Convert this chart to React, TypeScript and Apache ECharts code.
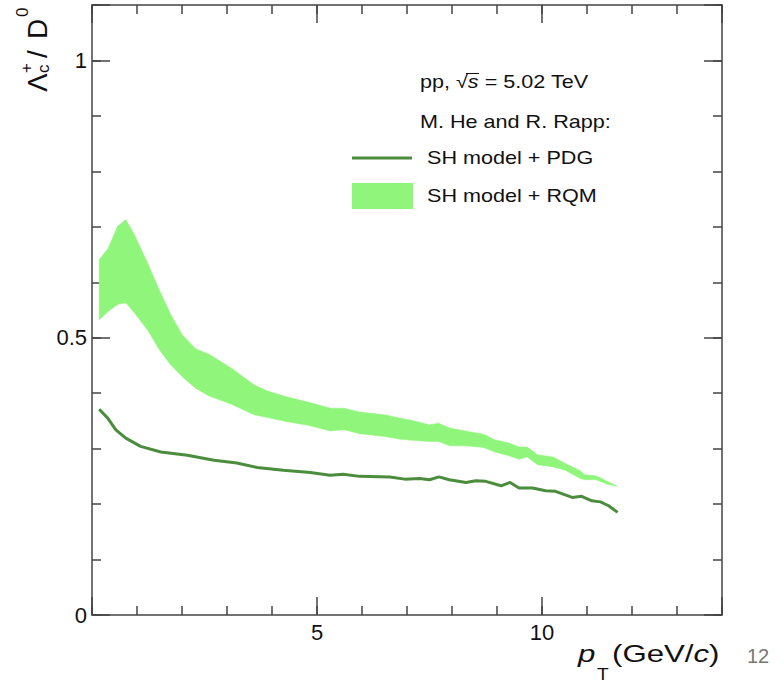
import React, { useEffect, useRef } from "react";
import * as echarts from "echarts";

// Λc+/D0 vs pT — M. He and R. Rapp, SH model + PDG (line)
const pdgX = [0.16, 0.35, 0.53, 0.75, 1.08, 1.53, 2.12, 2.71, 3.22, 3.67, 4.25, 4.85, 5.29, 5.58, 5.95, 6.62, 6.95, 7.28, 7.5, 7.71, 7.94, 8.31, 8.53, 8.75, 9.09, 9.29, 9.49, 9.79, 10.08, 10.3, 10.67, 10.88, 11.11, 11.3, 11.48, 11.68];
const pdgY = [0.371, 0.355, 0.334, 0.319, 0.304, 0.294, 0.288, 0.279, 0.274, 0.266, 0.261, 0.257, 0.252, 0.254, 0.25, 0.249, 0.245, 0.246, 0.244, 0.249, 0.244, 0.239, 0.242, 0.241, 0.233, 0.239, 0.229, 0.229, 0.224, 0.223, 0.212, 0.214, 0.206, 0.204, 0.197, 0.185];

// SH model + RQM (band)
const rqmX = [0.16, 0.35, 0.57, 0.75, 0.94, 1.25, 1.5, 1.75, 2.0, 2.3, 2.6, 3.1, 3.6, 3.9, 4.3, 4.8, 5.3, 5.6, 5.95, 6.5, 6.85, 7.1, 7.5, 7.7, 7.95, 8.3, 8.7, 8.95, 9.27, 9.49, 9.67, 9.9, 10.25, 10.52, 10.85, 10.95, 11.2, 11.45, 11.68];
const rqmUpper = [0.641, 0.66, 0.701, 0.713, 0.686, 0.632, 0.585, 0.542, 0.506, 0.48, 0.47, 0.445, 0.415, 0.404, 0.394, 0.384, 0.373, 0.373, 0.366, 0.361, 0.355, 0.351, 0.343, 0.346, 0.337, 0.332, 0.326, 0.316, 0.31, 0.303, 0.303, 0.289, 0.285, 0.273, 0.26, 0.253, 0.251, 0.241, 0.232];
const rqmLower = [0.532, 0.547, 0.56, 0.563, 0.545, 0.512, 0.478, 0.451, 0.43, 0.409, 0.395, 0.38, 0.361, 0.356, 0.349, 0.342, 0.332, 0.334, 0.327, 0.322, 0.317, 0.315, 0.313, 0.313, 0.305, 0.305, 0.302, 0.294, 0.287, 0.281, 0.285, 0.271, 0.267, 0.261, 0.246, 0.244, 0.244, 0.236, 0.232];

const xMajorLabels = [5, 10];
const yMajorLabels = [0, 0.5, 1];

const LINE_COLOR = "#4b8d3d";
const BAND_COLOR = "#90f57b";
const AXIS_COLOR = "#444444";
const FONT = "'Liberation Sans', Arial, Helvetica, sans-serif";

const txt = (text: string, font: string, extra: any = {}) => ({
  text, font, fill: "#111",
  align: "left", verticalAlign: "middle", textAlign: "left", textVerticalAlign: "middle",
  ...extra,
});

export default function App() {
  const ref = useRef<HTMLDivElement>(null);

  useEffect(() => {
    if (!ref.current) return;
    const chart = echarts.init(ref.current, null, { renderer: "svg" });

    const axisLine = { show: true, onZero: false, lineStyle: { color: AXIS_COLOR, width: 1.5 } };
    const noLine = { show: false, onZero: false };
    const tickStyle = { color: AXIS_COLOR, width: 1.5 };

    const xBase = { type: "value", min: 0, max: 14, splitLine: { show: false } };
    const yBase = { type: "value", min: 0, max: 1.1, splitLine: { show: false } };

    const option: any = {
      animation: false,
      backgroundColor: "#ffffff",
      grid: { left: 92, right: 61, top: 5, bottom: 68, containLabel: false },
      xAxis: [
        { ...xBase, position: "bottom", interval: 1, axisLine, axisTick: { inside: true, length: 9, lineStyle: tickStyle }, axisLabel: { show: false } },
        {
          ...xBase, position: "bottom", interval: 5, axisLine: noLine,
          axisTick: { inside: true, length: 18, lineStyle: tickStyle },
          axisLabel: {
            show: true, margin: 6, color: "#111", fontSize: 22, fontFamily: FONT,
            formatter: (v: number) => (xMajorLabels.indexOf(v) >= 0 ? String(v) : ""),
          },
        },
        { ...xBase, position: "top", interval: 1, axisLine, axisTick: { inside: true, length: 9, lineStyle: tickStyle }, axisLabel: { show: false } },
        { ...xBase, position: "top", interval: 5, axisLine: noLine, axisTick: { inside: true, length: 18, lineStyle: tickStyle }, axisLabel: { show: false } },
      ],
      yAxis: [
        { ...yBase, position: "left", interval: 0.1, axisLine, axisTick: { inside: true, length: 9, lineStyle: tickStyle }, axisLabel: { show: false } },
        {
          ...yBase, position: "left", interval: 0.5, axisLine: noLine,
          axisTick: { inside: true, length: 18, lineStyle: tickStyle },
          axisLabel: {
            show: true, margin: 5, color: "#111", fontSize: 22, fontFamily: FONT,
            formatter: (v: number) => {
              const hit = yMajorLabels.find((m) => Math.abs(m - v) < 1e-6);
              return hit === undefined ? "" : String(hit);
            },
          },
        },
        { ...yBase, position: "right", interval: 0.1, axisLine, axisTick: { inside: true, length: 9, lineStyle: tickStyle }, axisLabel: { show: false } },
        { ...yBase, position: "right", interval: 0.5, axisLine: noLine, axisTick: { inside: true, length: 18, lineStyle: tickStyle }, axisLabel: { show: false } },
      ],
      series: [
        {
          type: "custom",
          name: "SH model + RQM",
          xAxisIndex: 0,
          yAxisIndex: 0,
          silent: true,
          data: [[rqmX[0], rqmLower[0]]],
          renderItem: (params: any, api: any) => {
            const pts: number[][] = [];
            for (let i = 0; i < rqmX.length; i++) pts.push(api.coord([rqmX[i], rqmUpper[i]]));
            for (let i = rqmX.length - 1; i >= 0; i--) pts.push(api.coord([rqmX[i], rqmLower[i]]));
            return { type: "polygon", shape: { points: pts }, style: { fill: BAND_COLOR, stroke: BAND_COLOR, lineWidth: 0.5 } };
          },
          z: 1,
        },
        {
          type: "line",
          name: "SH model + PDG",
          xAxisIndex: 0,
          yAxisIndex: 0,
          data: pdgX.map((x, i) => [x, pdgY[i]]),
          showSymbol: false,
          symbol: "none",
          lineStyle: { color: LINE_COLOR, width: 3 },
          z: 2,
        },
      ],
      graphic: [
        // legend block
        {
          type: "text", x: 420, y: 82, scaleX: 1.2,
          style: txt("pp, √{i|s} = 5.02 TeV", `18px ${FONT}`, {
            rich: { i: { fontStyle: "italic", fontSize: 18, fontFamily: FONT, fill: "#111" } },
          }),
        },
        { type: "line", shape: { x1: 466, y1: 73.5, x2: 479, y2: 73.5 }, style: { stroke: "#111", lineWidth: 1 } },
        { type: "text", x: 420, y: 122, scaleX: 1.2, style: txt("M. He and R. Rapp:", `18px ${FONT}`) },
        { type: "line", shape: { x1: 352, y1: 158, x2: 412, y2: 158 }, style: { stroke: LINE_COLOR, lineWidth: 3 } },
        { type: "text", x: 427, y: 158, scaleX: 1.2, style: txt("SH model + PDG", `18px ${FONT}`) },
        { type: "rect", shape: { x: 352, y: 183, width: 61, height: 26 }, style: { fill: BAND_COLOR } },
        { type: "text", x: 427, y: 196, scaleX: 1.2, style: txt("SH model + RQM", `18px ${FONT}`) },
        // y-axis title (rotated)
        {
          type: "group", x: 47, y: 100, rotation: Math.PI / 2,
          children: [
            { type: "text", x: 8, y: -10, style: txt("Λ", `28px ${FONT}`) },
            { type: "text", x: 27, y: -4, style: txt("c", `17px ${FONT}`) },
            { type: "text", x: 27, y: -21, style: txt("+", `17px ${FONT}`) },
            { type: "text", x: 42, y: -10, style: txt("/", `28px ${FONT}`) },
            { type: "text", x: 61, y: -10, style: txt("D", `28px ${FONT}`) },
            { type: "text", x: 83, y: -25, style: txt("0", `17px ${FONT}`) },
          ],
        },
        // x-axis title
        { type: "text", x: 578, y: 654, scaleX: 1.3, style: txt("p", `italic 24px ${FONT}`) },
        { type: "text", x: 597, y: 675, scaleX: 1.2, style: txt("T", `16px ${FONT}`) },
        {
          type: "text", x: 612, y: 654, scaleX: 1.3,
          style: txt("(GeV/{i|c})", `24px ${FONT}`, {
            rich: { i: { fontStyle: "italic", fontSize: 24, fontFamily: FONT, fill: "#111" } },
          }),
        },
        { type: "text", x: 747, y: 656, style: txt("12", `20px ${FONT}`, { fill: "#777777" }) },
      ],
    };

    chart.setOption(option);
    return () => chart.dispose();
  }, []);

  return <div ref={ref} style={{ position: "absolute", left: 0, top: 0, width: 783, height: 683 }} />;
}
